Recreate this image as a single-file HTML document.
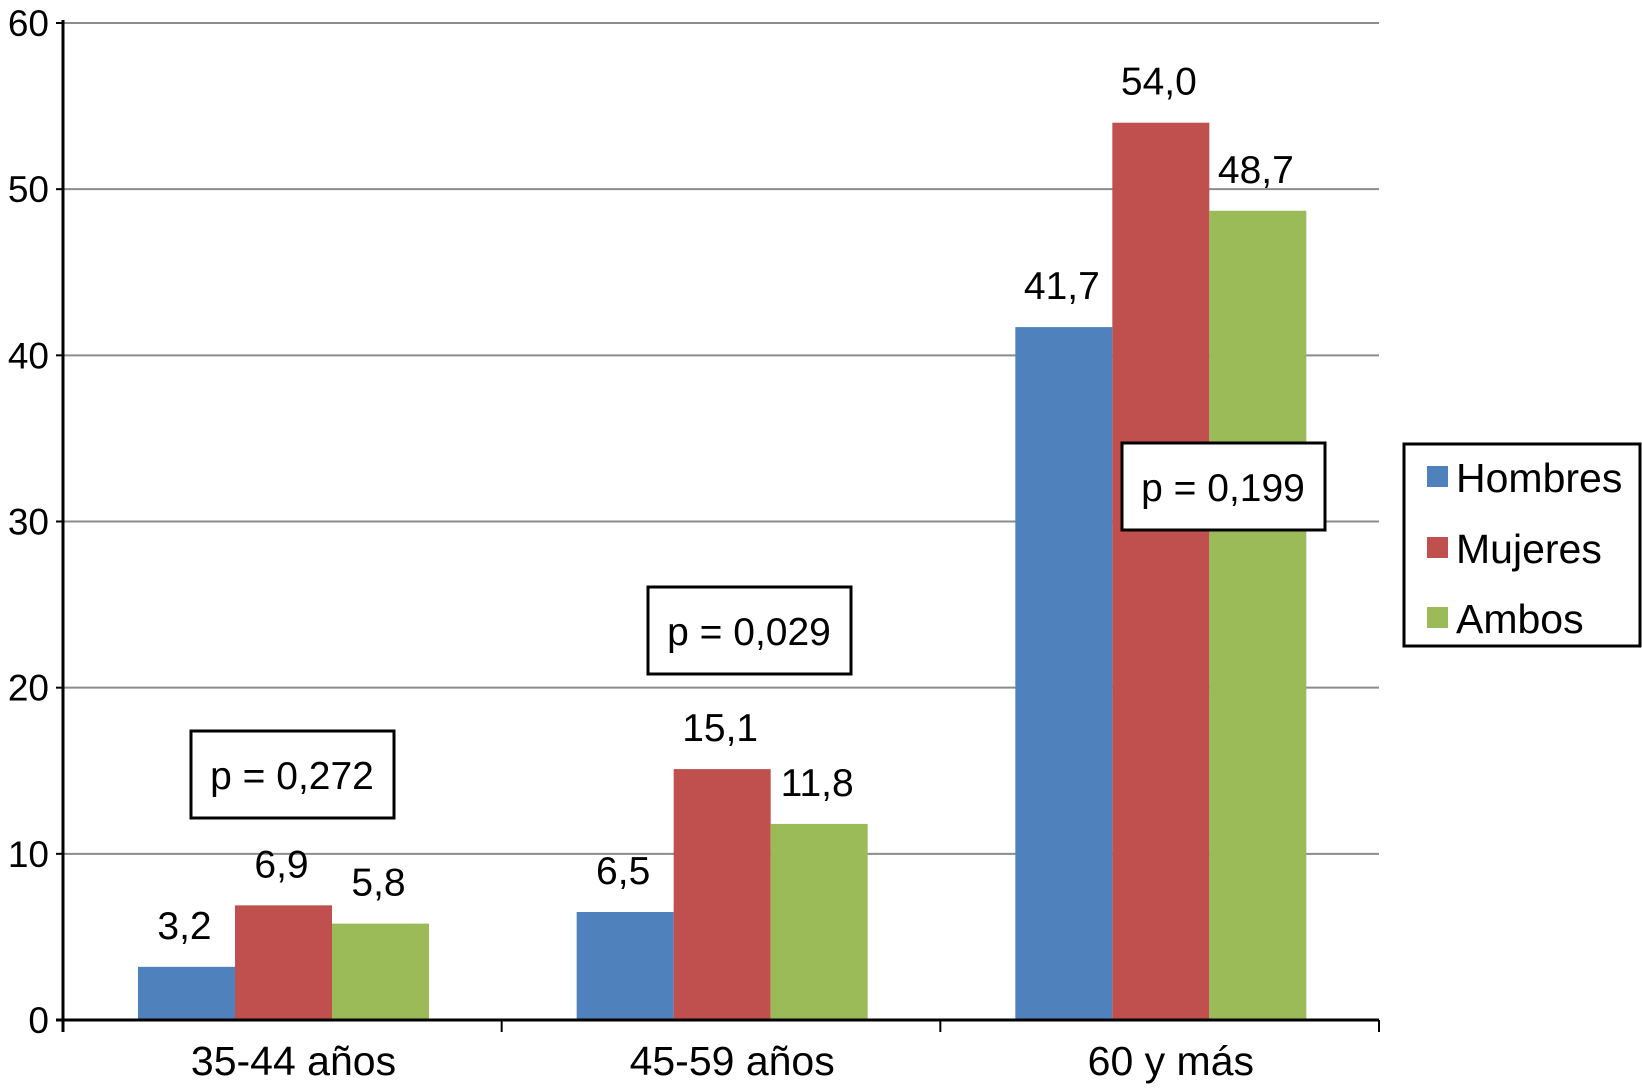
<!DOCTYPE html>
<html><head><meta charset="utf-8"><style>
body{margin:0;background:#fff}
svg text{font-family:"Liberation Sans",Arial,sans-serif;fill:#000}
</style></head><body>
<svg id="c" width="1642" height="1084"></svg>
<script>
const categories=["35-44 años","45-59 años","60 y más"];
const hombres=[3.2,6.5,41.7];
const mujeres=[6.9,15.1,54.0];
const ambos=[5.8,11.8,48.7];
const yTicks=[0,10,20,30,40,50,60];
const pValues=["p = 0,272","p = 0,029","p = 0,199"];
const seriesNames=["Hombres","Mujeres","Ambos"];
const colors=["#4f81bd","#c0504d","#9bbb59"];
const NS="http://www.w3.org/2000/svg";
const svg=document.getElementById('c');
const x0=63,x1=1379,y0=1020,yTop=23;
const y=v=>y0-(v/60)*(y0-yTop);
const catW=(x1-x0)/categories.length;
function mk(t,a,p){const e=document.createElementNS(NS,t);for(const k in a)e.setAttribute(k,a[k]);(p||svg).appendChild(e);return e;}
yTicks.forEach(t=>{
  if(t>0){const g=mk('line',{x1:x0,x2:x1,y1:y(t),y2:y(t),stroke:'#8c8c8c','stroke-width':2});
  
  }
  const tk=mk('line',{x1:x0-7,x2:x0,y1:y(t),y2:y(t),stroke:'#000','stroke-width':2});
  
  
  const l=mk('text',{x:49,y:y(t)+13,'text-anchor':'end','font-size':37});
  l.textContent=t;
  
  
});
const series=[hombres,mujeres,ambos];
const bw=97;
categories.forEach((c,i)=>{
  const gs=x0+i*catW+75;
  series.forEach((s,j)=>{
    const bx=gs+j*bw;
    const r=mk('rect',{x:bx,y:y(s[i]),width:bw,height:y0-y(s[i]),fill:colors[j]});
    
    
    const t=mk('text',{x:bx+bw/2-2,y:y(s[i])-28,'text-anchor':'middle','font-size':39});
    t.textContent=s[i].toFixed(1).replace('.',',');
    
    
  });
  const tk=mk('line',{x1:x0+(i+1)*catW,x2:x0+(i+1)*catW,y1:y0,y2:y0+12,stroke:'#000','stroke-width':2});
  
  
  const cl=mk('text',{x:gs+bw*1.5+10,y:1075,'text-anchor':'middle','font-size':41});
  cl.textContent=c;
  
  
});
const ax=mk('line',{x1:x0,x2:x0,y1:yTop-3,y2:y0+12,stroke:'#000','stroke-width':3});


const xa=mk('line',{x1:x0-7,x2:x1,y1:y0,y2:y0,stroke:'#000','stroke-width':3});


const pBoxes=[[191,731],[648,587],[1122,443]];
pValues.forEach((p,i)=>{
  const [bx,by]=pBoxes[i];
  const r=mk('rect',{x:bx,y:by,width:203,height:87,fill:'#fff',stroke:'#000','stroke-width':3});
  
  
  const t=mk('text',{x:bx+101,y:by+58,'text-anchor':'middle','font-size':39});
  t.textContent=p;
  
  
});
const lg=mk('rect',{x:1404,y:444,width:236,height:202,fill:'#fff',stroke:'#000','stroke-width':3});


const ly=[477,548,618];
seriesNames.forEach((n,j)=>{
  const s=mk('rect',{x:1427,y:ly[j]-11,width:21,height:21,fill:colors[j]});
  
  
  const t=mk('text',{x:1456,y:ly[j]+15,'font-size':41});
  t.textContent=n;
  
  
});
</script>
</body></html>
